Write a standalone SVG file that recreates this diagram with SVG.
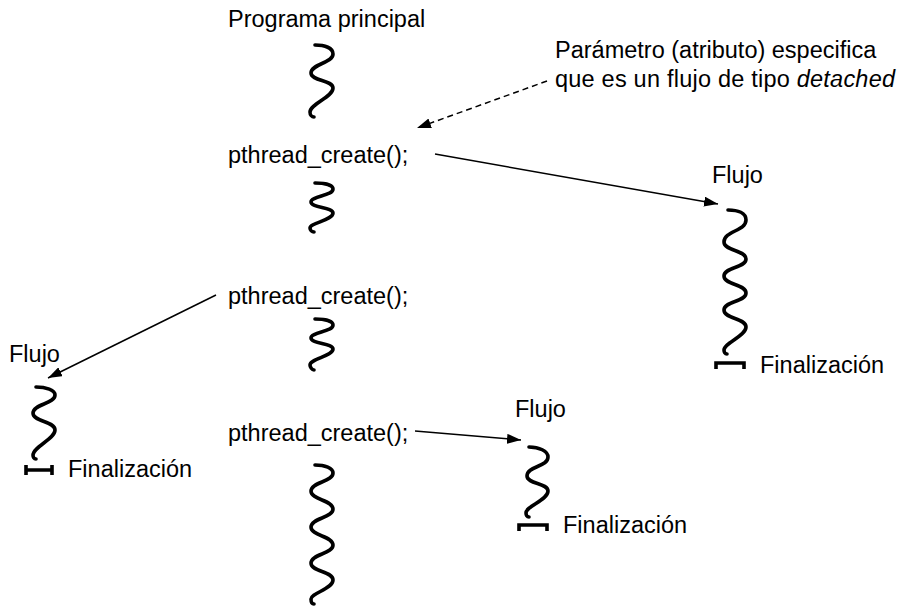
<svg xmlns="http://www.w3.org/2000/svg" width="899" height="610" viewBox="0 0 899 610">
<style>
text{font-family:"Liberation Sans",Arial,sans-serif;font-size:23.5px;fill:#000}
.sq{fill:none;stroke:#000;stroke-width:3.6;stroke-linecap:round;stroke-linejoin:round}
.term{fill:none;stroke:#000;stroke-width:3.6}
.arr{fill:none;stroke:#000;stroke-width:1.5;marker-end:url(#ah)}
.dash{stroke-dasharray:6 4}
</style>
<defs>
<marker id="ah" viewBox="0 0 14 10" refX="14" refY="5" markerWidth="14" markerHeight="10" markerUnits="userSpaceOnUse" orient="auto">
<path d="M0,0 L14,5 L0,10 Z" fill="#000"/>
</marker>
</defs>
<rect width="899" height="610" fill="#fff"/>
<g id="main">
<text x="228" y="27">Programa principal</text>
<path class="sq" d="M315,45 C325,45 333,48 333,54 C333,63 311,64 311,73 C311,81 333,80 333,88 C333,97 310,104 310,112 C310,115 312,117 314,117"/>
<text x="228" y="163">pthread_create();</text>
<path class="sq" d="M315,183 C325,183 333,185 333,189 C333,196 311,196 311,202 C311,208 333,207 333,213 C333,220 310,223 310,228 C310,230 312,232 314,232"/>
<text x="228" y="304">pthread_create();</text>
<path class="sq" d="M315,319 C325,319 333,321 333,325 C333,332 311,332 311,338 C311,344 333,343 333,349 C333,356 310,359 310,365 C310,367 312,370 314,370"/>
<text x="228" y="441">pthread_create();</text>
<path class="sq" d="M315,465 C325,465 333,468 333,473 C333,482 311,482 311,491 C311,500 333,500 333,509 C333,518 311,518 311,527 C311,536 333,536 333,545 C333,554 311,554 311,563 C311,572 333,571 333,580 C333,589 311,593 311,599 C311,602 312,604 314,604"/>
</g>
<g id="note">
<text x="555" y="58">Parámetro (atributo) especifica</text>
<text x="555" y="87" textLength="340" lengthAdjust="spacing">que es un flujo de tipo <tspan font-style="italic">detached</tspan></text>
</g>
<g id="flujo-right">
<text x="712" y="183">Flujo</text>
<path class="sq" d="M728,210 C738,210 746,213 746,220 C746,231 724,231 724,242 C724,251 746,250 746,259 C746,268 724,267 724,276 C724,285 746,284 746,293 C746,302 724,301 724,310 C724,319 746,318 746,327 C746,336 724,343 724,350 C724,352 725,354 727,354"/>
<path class="term" d="M716,369 V363 H744 V369"/>
<text x="760" y="373">Finalización</text>
</g>
<g id="flujo-left">
<text x="9" y="362">Flujo</text>
<path class="sq" d="M36,387 C46,387 55,390 55,395 C55,404 33,404 33,413 C33,422 55,421 55,430 C55,439 33,447 33,455 C33,457 34,459 36,459"/>
<path class="term" d="M26,465 V475 M26,470 H52 M52,465 V475"/>
<text x="68" y="477">Finalización</text>
</g>
<g id="flujo-mid">
<text x="515" y="417">Flujo</text>
<path class="sq" d="M529,447 C539,447 548,451 548,457 C548,467 527,466 527,476 C527,484 548,483 548,491 C548,500 526,506 526,513 C526,515 527,517 529,517"/>
<path class="term" d="M519,531 V525 H547 V531"/>
<text x="563" y="533">Finalización</text>
</g>
<g id="connectors">
<path class="arr" d="M435,154 L718,204"/>
<path class="arr" d="M216,295 L48,378"/>
<path class="arr" d="M415,431 L521,440"/>
<path class="arr dash" d="M547,81 L417,128"/>
</g>
</svg>
